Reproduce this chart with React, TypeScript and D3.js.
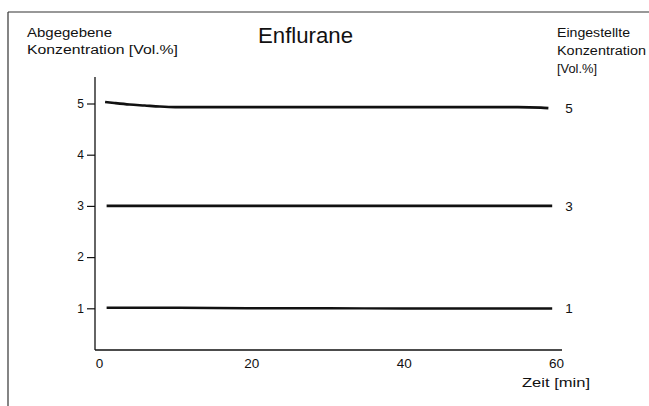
import React, { useEffect, useRef } from "react";
import * as d3 from "d3";

// Delivered concentration over time for three vaporizer settings (Enflurane)
const settings = ["5", "3", "1"];

const time5 = [0.8, 2, 4, 6, 8, 10, 20, 30, 40, 50, 55, 58, 59];
const delivered5 = [5.03, 5.01, 4.98, 4.96, 4.94, 4.93, 4.93, 4.93, 4.93, 4.93, 4.93, 4.92, 4.91];

const time3 = [1, 10, 20, 30, 40, 50, 59.5];
const delivered3 = [3.0, 3.0, 3.0, 3.0, 3.0, 3.0, 3.0];

const time1 = [1, 10, 20, 30, 40, 50, 59.5];
const delivered1 = [1.01, 1.01, 1.0, 1.0, 0.995, 0.995, 0.995];

const yTicks = [1, 2, 3, 4, 5];
const xTicks = [0, 20, 40, 60];

const W = 649;
const H = 406;
const FONT = "'Liberation Sans', Arial, Helvetica, sans-serif";
const INK = "#111";

export default function App() {
  const ref = useRef<SVGSVGElement | null>(null);

  useEffect(() => {
    const svg = d3.select(ref.current);
    svg.selectAll("*").remove();

    const x = d3.scaleLinear().domain([0, 60]).range([99, 556]);
    const y = d3.scaleLinear().domain([0, 5]).range([359.5, 103.5]);
    const axisY = 350;
    const axisX = 95;

    // outer frame (top and left rules)
    svg.append("line").attr("x1", 8).attr("x2", W).attr("y1", 12).attr("y2", 12)
      .attr("stroke", "#333").attr("stroke-width", 1.2);
    svg.append("line").attr("x1", 8).attr("x2", 8).attr("y1", 12).attr("y2", H)
      .attr("stroke", "#333").attr("stroke-width", 1.2);

    // axis lines
    svg.append("line").attr("x1", axisX).attr("x2", axisX).attr("y1", 77).attr("y2", axisY)
      .attr("stroke", INK).attr("stroke-width", 1.3);
    svg.append("line").attr("x1", axisX).attr("x2", 562).attr("y1", axisY).attr("y2", axisY)
      .attr("stroke", INK).attr("stroke-width", 1.3);

    // y axis ticks
    const gy = svg.append("g").attr("transform", `translate(${axisX},0)`)
      .call(d3.axisLeft(y).tickValues(yTicks).tickSize(8).tickPadding(3).tickFormat(d3.format("d")));
    gy.select(".domain").remove();
    gy.selectAll(".tick line").attr("stroke", INK).attr("stroke-width", 1.2);
    gy.selectAll(".tick text").attr("font-family", FONT).attr("font-size", 12).attr("fill", INK);

    // x axis labels (no tick marks)
    const gx = svg.append("g").attr("transform", `translate(0,${axisY})`)
      .call(d3.axisBottom(x).tickValues(xTicks).tickSize(0).tickPadding(8).tickFormat(d3.format("d")));
    gx.select(".domain").remove();
    gx.selectAll(".tick text").attr("font-family", FONT).attr("font-size", 13.5).attr("fill", INK);

    const line = d3.line<[number, number]>()
      .x((d) => x(d[0]))
      .y((d) => y(d[1]))
      .curve(d3.curveMonotoneX);

    const series: { t: number[]; v: number[]; w: number; label: string }[] = [
      { t: time5, v: delivered5, w: 2.6, label: settings[0] },
      { t: time3, v: delivered3, w: 2.8, label: settings[1] },
      { t: time1, v: delivered1, w: 2.4, label: settings[2] },
    ];

    series.forEach((s) => {
      const pts = s.t.map((t, i) => [t, s.v[i]] as [number, number]);
      svg.append("path").attr("d", line(pts) as string)
        .attr("fill", "none").attr("stroke", INK).attr("stroke-width", s.w)
        .attr("stroke-linecap", "butt");
      const last = pts[pts.length - 1];
      svg.append("text").attr("x", 569).attr("y", y(last[1]))
        .attr("dy", "0.36em").attr("text-anchor", "middle")
        .attr("font-family", FONT).attr("font-size", 13.5).attr("fill", INK)
        .text(s.label);
    });

    const txt = (t: string, xx: number, yy: number, size: number, len?: number) => {
      const el = svg.append("text").attr("x", xx).attr("y", yy)
        .attr("font-family", FONT).attr("font-size", size).attr("fill", INK).text(t);
      if (len) el.attr("textLength", len).attr("lengthAdjust", "spacingAndGlyphs");
      return el;
    };

    // title and axis captions
    txt("Enflurane", 258, 43, 22, 95);
    txt("Abgegebene", 27, 37, 12.5, 85);
    txt("Konzentration [Vol.%]", 27, 54, 12.5, 151);
    txt("Eingestellte", 557, 37, 12.5, 73);
    txt("Konzentration", 557, 55, 12.5, 89);
    txt("[Vol.%]", 557, 73, 12.5, 40);
    txt("Zeit [min]", 522, 387, 13.5, 68);
  }, []);

  return (
    <svg ref={ref} width={W} height={H}
      style={{ position: "absolute", left: 0, top: 0, background: "#fff" }} />
  );
}
